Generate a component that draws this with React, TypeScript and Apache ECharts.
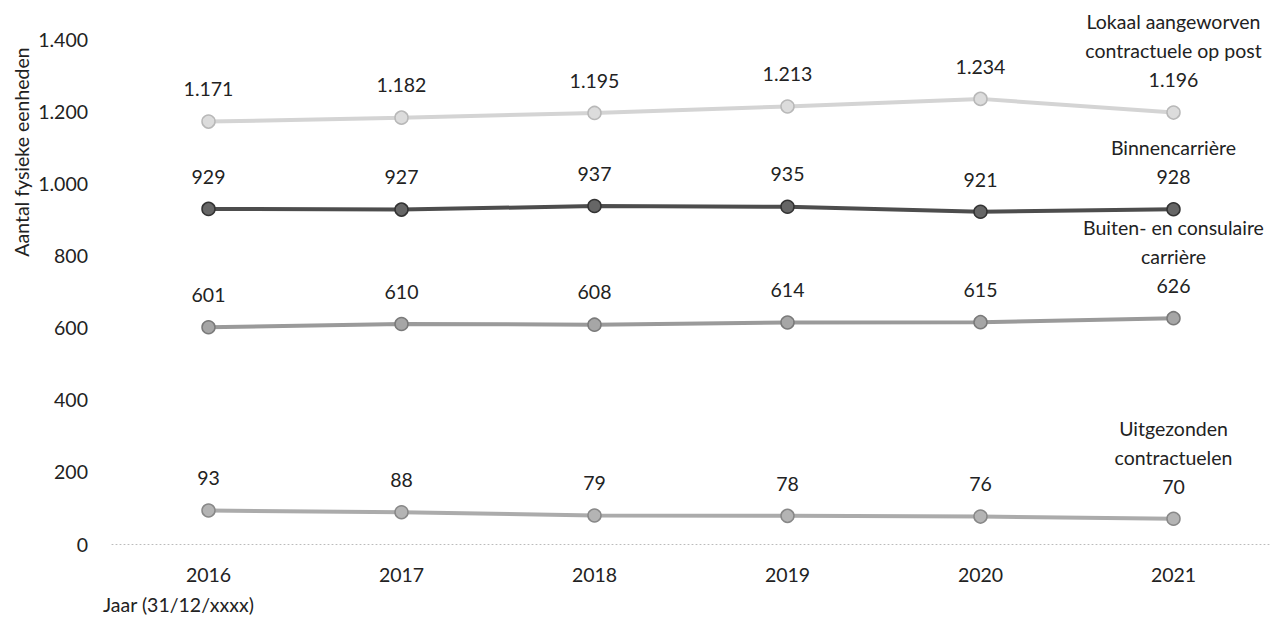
import React, { useEffect, useRef } from "react";
import * as echarts from "echarts";

const years = ["2016", "2017", "2018", "2019", "2020", "2021"];
const yTicks = [0, 200, 400, 600, 800, 1000, 1200, 1400];
const lokaal = [1171, 1182, 1195, 1213, 1234, 1196];
const binnen = [929, 927, 937, 935, 921, 928];
const buiten = [601, 610, 608, 614, 615, 626];
const uitgezonden = [93, 88, 79, 78, 76, 70];
const seriesNames = [
  "Lokaal aangeworven\ncontractuele op post",
  "Binnencarrière",
  "Buiten- en consulaire\ncarrière",
  "Uitgezonden\ncontractuelen",
];

const fmt = (v: number) => String(v).replace(/\B(?=(\d{3})+(?!\d))/g, ".");
const FONT = "Lato";
const FS = 19.5;
const TXT = "#222222";

export default function App() {
  const ref = useRef<HTMLDivElement>(null);
  useEffect(() => {
    const chart = echarts.init(ref.current!, null, { renderer: "svg" });
    const mk = (name: string, data: number[], line: string, fill: string, border: string) => ({
      type: "line",
      name,
      data,
      symbol: "circle",
      symbolSize: 13,
      lineStyle: { color: line, width: 4 },
      itemStyle: { color: fill, borderColor: border, borderWidth: 1.5 },
      label: {
        show: true,
        position: "top",
        distance: 11,
        color: TXT,
        fontFamily: FONT,
        fontSize: FS,
        lineHeight: 29,
        align: "center",
        formatter: (p: any) =>
          p.dataIndex === data.length - 1 ? name + "\n" + fmt(p.value) : fmt(p.value),
      },
      z: 3,
    });
    chart.setOption({
      animation: false,
      grid: { left: 112, right: 5, top: 39, bottom: 75 },
      xAxis: {
        type: "category",
        data: years,
        boundaryGap: true,
        axisLine: { show: true, lineStyle: { color: "#bbbbbb", type: [1, 3], width: 1 } },
        axisTick: { show: false },
        axisLabel: { color: TXT, fontFamily: FONT, fontSize: FS, margin: 20 },
        splitLine: { show: false },
      },
      yAxis: {
        type: "value",
        min: yTicks[0],
        max: yTicks[yTicks.length - 1],
        interval: 200,
        axisLine: { show: false },
        axisTick: { show: false },
        splitLine: { show: false },
        axisLabel: {
          color: TXT,
          fontFamily: FONT,
          fontSize: FS,
          margin: 24,
          formatter: (v: number) => fmt(v),
        },
      },
      graphic: [
        {
          type: "text",
          x: 21,
          y: 152,
          rotation: Math.PI / 2,
          style: {
            text: "Aantal fysieke eenheden",
            fontFamily: FONT,
            fontSize: FS,
            fill: TXT,
            align: "center",
            verticalAlign: "middle",
          },
        },
        {
          type: "text",
          x: 103,
          y: 604,
          style: {
            text: "Jaar (31/12/xxxx)",
            fontFamily: FONT,
            fontSize: FS,
            fill: TXT,
            align: "left",
            verticalAlign: "middle",
          },
        },
      ],
      series: [
        mk(seriesNames[0], lokaal, "#d4d4d4", "#dcdcdc", "#b8b8b8"),
        mk(seriesNames[1], binnen, "#4d4d4d", "#666666", "#333333"),
        mk(seriesNames[2], buiten, "#9a9a9a", "#a6a6a6", "#7a7a7a"),
        mk(seriesNames[3], uitgezonden, "#ababab", "#b4b4b4", "#888888"),
      ],
    });
    return () => chart.dispose();
  }, []);
  return (
    <div
      ref={ref}
      style={{ position: "fixed", left: 0, top: 0, width: 1275, height: 619, background: "#fff" }}
    />
  );
}
